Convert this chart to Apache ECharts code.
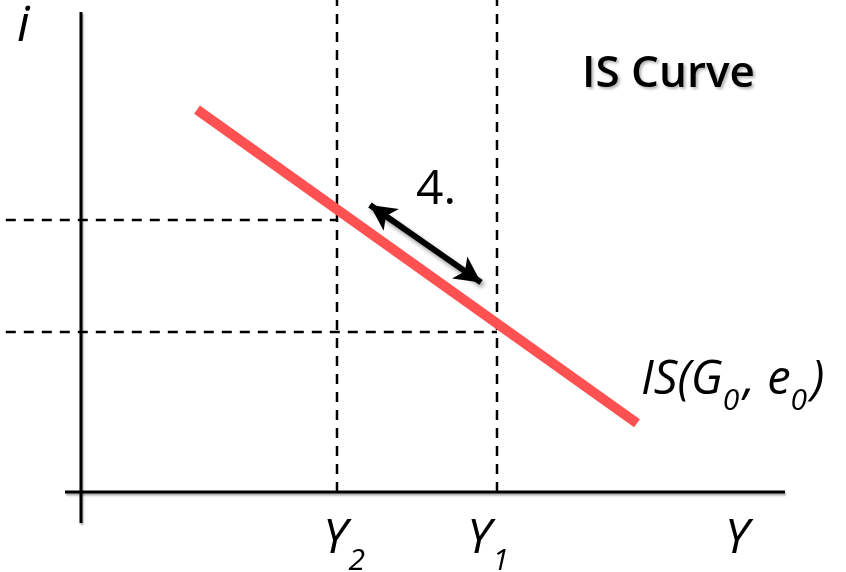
<!DOCTYPE html>
<html>
<head>
<meta charset="utf-8">
<script src="https://cdn.jsdelivr.net/npm/echarts@6/dist/echarts.min.js"></script>
<style>
  html, body { margin: 0; padding: 0; background: #fff; }
  #chart { width: 846px; height: 572px; }
</style>
</head>
<body>
<div id="chart"></div>
<script>
// output Y on the x axis, interest rate i on the y axis (chart units)
var isCurve = [[7.25, 23.9], [34.75, 4.3]];
var yLevels = [16, 26];          // Y2, Y1
var iLevels = [17, 10];          // i at Y2, i at Y1
var shiftArrow = [[18.06, 17.94], [25, 13.1]];
var xTickValues = [16, 26, 41];
var xTickLabels = ['Y', 'Y', 'Y'];
var xTickSubs = ['2', '1', ''];
var axisX = [[-1, 0], [44, 0]];
var axisY = [[0, -1.94], [0, 30]];
var dashTop = 30.75, dashLeft = -4.7;

var font = '"Open Sans", "Liberation Sans", sans-serif';

var series = [];

function plainLine(name, data, style) {
	series.push({
		name: name,
		type: 'line',
		data: data,
		symbol: 'none',
		clip: false,
		silent: true,
		animation: false,
		lineStyle: style
	});
}

var dashStyle = { color: '#000', width: 2.5, type: [10, 8] };
for (var k = 0; k < yLevels.length; k++) {
	plainLine('v' + k, [[yLevels[k], 0], [yLevels[k], dashTop]], dashStyle);
	plainLine('h' + k, [[dashLeft, iLevels[k]], [yLevels[k], iLevels[k]]], dashStyle);
}

var axisStyle = {
	color: '#000', width: 3,
	shadowColor: 'rgba(0,0,0,0.35)', shadowBlur: 2, shadowOffsetX: 1, shadowOffsetY: 2
};
plainLine('axisX', axisX, axisStyle);
plainLine('axisY', axisY, axisStyle);

series.push({
	name: 'IS',
	type: 'line',
	data: isCurve,
	symbol: 'none',
	clip: false,
	silent: true,
	animation: false,
	lineStyle: { color: '#FF5151', width: 10, cap: 'butt' },
	markLine: {
		silent: true,
		animation: false,
		symbol: ['arrow', 'arrow'],
		symbolSize: [20, 26],
		label: { show: false },
		lineStyle: {
			color: '#000', width: 6, type: 'solid',
			shadowColor: 'rgba(0,0,0,0.4)', shadowBlur: 4, shadowOffsetX: 2, shadowOffsetY: 3
		},
		data: [[{ coord: shiftArrow[0] }, { coord: shiftArrow[1] }]]
	}
});

var labelRich = {
	m0: { fontFamily: font, fontStyle: 'italic', fontSize: 48, lineHeight: 50, color: '#000', padding: [0, 0, 0, 14] },
	m1: { fontFamily: font, fontStyle: 'italic', fontSize: 48, lineHeight: 50, color: '#000' },
	m2: { fontFamily: font, fontStyle: 'italic', fontSize: 48, lineHeight: 50, color: '#000' },
	s0: { fontFamily: font, fontStyle: 'italic', fontSize: 30, lineHeight: 32, color: '#000', padding: [44, 0, 0, 1] },
	s1: { fontFamily: font, fontStyle: 'italic', fontSize: 30, lineHeight: 32, color: '#000', padding: [44, 18, 0, 1] }
};

var chart = echarts.init(document.getElementById('chart'));
var option = {
	backgroundColor: '#fff',
	animation: false,
	title: {
		text: 'IS Curve',
		left: 582,
		top: 52,
		padding: 0,
		textStyle: {
			fontFamily: font, fontSize: 44, fontWeight: 600, color: '#000',
			textShadowColor: 'rgba(0,0,0,0.3)', textShadowBlur: 3,
			textShadowOffsetX: 2, textShadowOffsetY: 2
		}
	},
	grid: { left: 1, right: 61, top: 12, bottom: 80, containLabel: false, outerBoundsMode: 'none' },
	xAxis: {
		type: 'value',
		min: -5,
		max: 44,
		interval: 1,
		axisLine: { show: false },
		axisTick: { show: false },
		splitLine: { show: false },
		axisLabel: {
			margin: 22,
			formatter: function (v) {
				var idx = xTickValues.indexOf(v);
				if (idx < 0) return '';
				var s = '{m' + idx + '|' + xTickLabels[idx] + '}';
				if (xTickSubs[idx]) s += '{s' + idx + '|' + xTickSubs[idx] + '}';
				return s;
			},
			rich: labelRich
		}
	},
	yAxis: {
		type: 'value',
		min: 0,
		max: 30,
		axisLine: { show: false },
		axisTick: { show: false },
		splitLine: { show: false },
		axisLabel: { show: false }
	},
	graphic: [
		{
			type: 'text', left: 17, top: 2, silent: true,
			style: { text: 'i', font: 'italic 50px ' + font, fill: '#000' }
		},
		{
			type: 'text', left: 416, top: 166, silent: true,
			style: { text: '4.', font: '48px ' + font, fill: '#000' }
		},
		{
			type: 'text', left: 641, top: 346, silent: true,
			style: {
				text: '{m|IS(G}{s|0}{m|, e}{s|0}{m|)}',
				fill: '#000',
				rich: {
					m: { fontFamily: font, fontStyle: 'italic', fontSize: 47, lineHeight: 48, fill: '#000' },
					s: { fontFamily: font, fontStyle: 'italic', fontSize: 30, lineHeight: 32, fill: '#000', padding: [40, 4, 0, 0] }
				}
			}
		}
	],
	series: series
};
chart.setOption(option);
</script>
</body>
</html>
